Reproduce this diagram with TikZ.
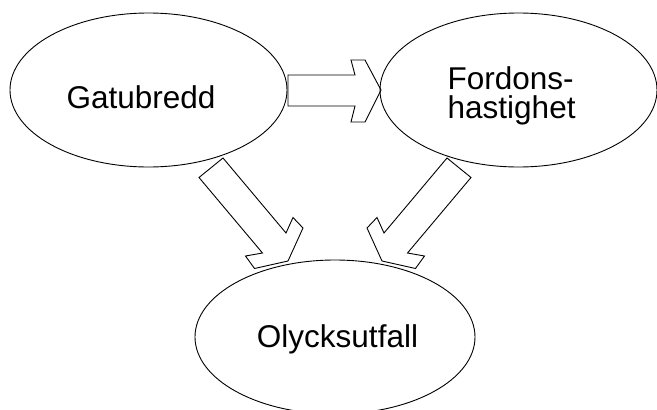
\documentclass[tikz,border=0pt]{standalone}
\usepackage{fontspec}
\setmainfont{Liberation Sans}
\usetikzlibrary{shapes.geometric}
\begin{document}
\begin{tikzpicture}[x=1pt,y=-1pt,
  oval/.style={draw=black, line width=0.9pt, ellipse, inner sep=0pt, minimum width=277pt, minimum height=154pt},
  lbl/.style={inner sep=0pt, font=\fontsize{31.5}{29}\selectfont},
  blockarrow/.style={draw=black, line width=0.9pt, line join=miter}]
\useasboundingbox (0,0) rectangle (657,410);
% ellipses
\node[oval] (gat) at (148.5,90) {};
\node[oval] (ford) at (518.5,90) {};
\node[oval, minimum width=280pt] (oly) at (335,337) {};
% texts
\node[lbl, anchor=base] (gatt) at (141,108) {Gatubredd};
\node[lbl, anchor=base west] (fordt1) at (447.5,89) {Fordons-};
\node[lbl, anchor=base west] (fordt2) at (447.5,118) {hastighet};
\node[lbl, anchor=base] (olyt) at (337.5,347) {Olycksutfall};
% horizontal block arrow Gatubredd -> Fordonshastighet
\draw[blockarrow] (288,75) -- (355,75) -- (351,60) -- (365,60) -- (381,90)
   -- (365,122) -- (351,122) -- (355,106) -- (288,106) -- cycle;
% diagonal block arrow Gatubredd -> Olycksutfall
\draw[blockarrow] (223,158) -- (286,233) -- (293,217.5) -- (303,228) -- (288,261)
   -- (254.5,268.5) -- (245.5,256) -- (262.5,253) -- (199,177.5) -- cycle;
% diagonal block arrow Fordonshastighet -> Olycksutfall
\draw[blockarrow] (447,158) -- (384,233) -- (377,217.5) -- (367,228) -- (382,261)
   -- (415.5,268.5) -- (424.5,256) -- (407.5,253) -- (471,177.5) -- cycle;
\end{tikzpicture}
\end{document}
